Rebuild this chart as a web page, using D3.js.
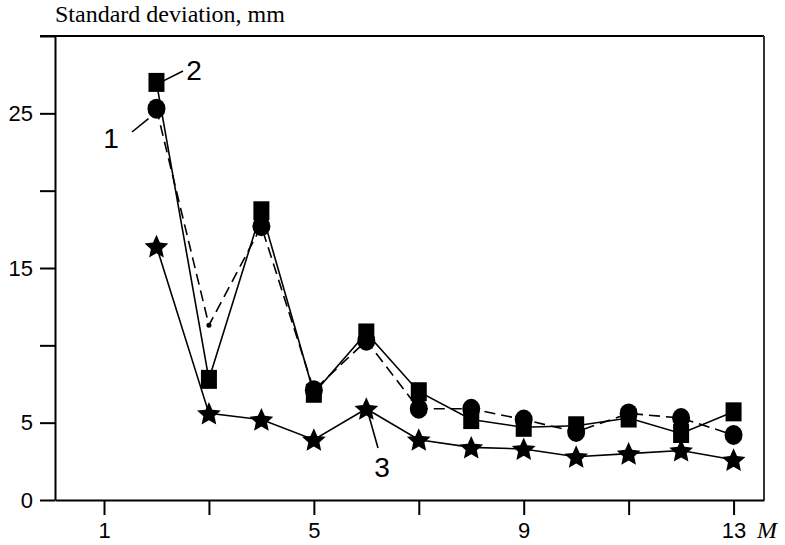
<!DOCTYPE html>
<html>
<head>
<meta charset="utf-8">
<script src="https://cdn.jsdelivr.net/npm/d3@7"></script>
<style>
  body { margin: 0; background: #fff; }
  svg { display: block; }
  .tick text { font-family: "Liberation Sans", Arial, sans-serif; font-size: 22px; fill: #000; }
</style>
</head>
<body>
<div id="chart"></div>
<script>
// values (M = 2..13)
const mValues = [2, 3, 4, 5, 6, 7, 8, 9, 10, 11, 12, 13];
const series1 = [25.3, 11.3, 17.7, 7.1, 10.3, 5.9, 5.9, 5.2, 4.4, 5.6, 5.3, 4.2]; // circles, dashed
const series2 = [27.0, 7.8, 18.7, 6.9, 10.8, 7.0, 5.2, 4.7, 4.8, 5.3, 4.3, 5.7]; // squares, solid
const series3 = [16.4, 5.6, 5.2, 3.9, 5.9, 3.9, 3.4, 3.3, 2.8, 3.0, 3.2, 2.6];   // stars, solid
const yTicks = [0, 5, 10, 15, 20, 25, 30];
const yLabels = [0, 5, 15, 25];
const xTicks = [1, 3, 5, 7, 9, 11, 13];
const xLabels = [1, 5, 9, 13];

const W = 785, H = 545;

const svg = d3.select('#chart')
  .append('svg')
  .attr('width', W)
  .attr('height', H);

const x = d3.scaleLinear().domain([0.066, 13.58]).range([55, 764]);
const y = d3.scaleLinear().domain([0, 30]).range([500, 36]);

// frame: top and right borders
svg.append('line')
  .attr('x1', x.range()[0] - 15).attr('x2', x.range()[1])
  .attr('y1', y(30)).attr('y2', y(30))
  .attr('stroke', '#000').attr('stroke-width', 2);
svg.append('line')
  .attr('x1', x.range()[1]).attr('x2', x.range()[1])
  .attr('y1', y(30)).attr('y2', y(0))
  .attr('stroke', '#333').attr('stroke-width', 2);

// axes
const yAxis = svg.append('g')
  .attr('transform', `translate(${x.range()[0]},0)`)
  .call(d3.axisLeft(y)
    .tickValues(yTicks)
    .tickSize(15)
    .tickSizeOuter(0)
    .tickPadding(7)
    .tickFormat(d => yLabels.includes(d) ? d : ''));

const xAxis = svg.append('g')
  .attr('transform', `translate(0,${y(0)})`)
  .call(d3.axisBottom(x)
    .tickValues(xTicks)
    .tickSize(15)
    .tickSizeOuter(0)
    .tickPadding(7)
    .tickFormat(d => xLabels.includes(d) ? d : ''));

[yAxis, xAxis].forEach(a => {
  a.select('.domain').attr('stroke', '#000').attr('stroke-width', 2);
  a.selectAll('.tick line').attr('stroke', '#000').attr('stroke-width', 2);
});

// titles
svg.append('text')
  .attr('x', 55).attr('y', 22)
  .attr('font-family', '"Liberation Serif", "Times New Roman", serif')
  .attr('font-size', 24)
  .text('Standard deviation, mm');

svg.append('text')
  .attr('x', 757).attr('y', 538)
  .attr('font-family', '"Liberation Serif", "Times New Roman", serif')
  .attr('font-style', 'italic')
  .attr('font-size', 24)
  .text('M');

// lines
const line = d3.line()
  .x(d => x(d[0]))
  .y(d => y(d[1]));

const pairs = vals => mValues.map((m, i) => [m, vals[i]]);

svg.append('path')
  .datum(pairs(series3))
  .attr('d', line)
  .attr('fill', 'none').attr('stroke', '#000').attr('stroke-width', 1.6);

svg.append('path')
  .datum(pairs(series2))
  .attr('d', line)
  .attr('fill', 'none').attr('stroke', '#000').attr('stroke-width', 1.6);

svg.append('path')
  .datum(pairs(series1))
  .attr('d', line)
  .attr('fill', 'none').attr('stroke', '#000').attr('stroke-width', 1.6)
  .attr('stroke-dasharray', '11,6');

// fatter star than d3.symbolStar
const fatStar = {
  draw(context, size) {
    const r = Math.sqrt(size), ri = r * 0.47;
    for (let i = 0; i < 10; i++) {
      const a = -Math.PI / 2 + i * Math.PI / 5;
      const rr = i % 2 ? ri : r;
      if (i === 0) context.moveTo(rr * Math.cos(a), rr * Math.sin(a));
      else context.lineTo(rr * Math.cos(a), rr * Math.sin(a));
    }
    context.closePath();
  }
};

// markers
svg.append('g')
  .selectAll('path')
  .data(pairs(series3))
  .join('path')
  .attr('transform', d => `translate(${x(d[0])},${y(d[1]) + 1})`)
  .attr('d', d3.symbol(fatStar, 156))
  .attr('fill', '#000');

svg.append('g')
  .selectAll('rect')
  .data(pairs(series2))
  .join('rect')
  .attr('x', d => x(d[0]) - 8)
  .attr('y', d => y(d[1]) - 9.5)
  .attr('width', 16)
  .attr('height', 19)
  .attr('fill', '#000');

svg.append('g')
  .selectAll('ellipse')
  .data(pairs(series1))
  .join('ellipse')
  .attr('cx', d => x(d[0]))
  .attr('cy', d => y(d[1]))
  .attr('rx', (d, i) => i === 1 ? 2.5 : 9)
  .attr('ry', (d, i) => i === 1 ? 2.5 : 10)
  .attr('fill', '#000');

// curve labels with leader lines
const labelFont = '"Liberation Sans", Arial, sans-serif';
const labels = [
  {text: '1', m: 2, v: series1[0], lx: 111, ly: 148, x1: 132, y1: 132, dx: -8, dy: 10},
  {text: '2', m: 2, v: series2[0], lx: 194, ly: 80, x1: 183, y1: 71, dx: 4, dy: 0},
  {text: '3', m: 6, v: series3[4], lx: 382, ly: 477, x1: 378, y1: 448, dx: 2, dy: 5}
];

labels.forEach(l => {
  svg.append('line')
    .attr('x1', l.x1).attr('y1', l.y1)
    .attr('x2', x(l.m) + l.dx).attr('y2', y(l.v) + l.dy)
    .attr('stroke', '#000').attr('stroke-width', 1.6);
  svg.append('text')
    .attr('x', l.lx).attr('y', l.ly)
    .attr('text-anchor', 'middle')
    .attr('font-family', labelFont)
    .attr('font-size', 28)
    .text(l.text);
});
</script>
</body>
</html>
